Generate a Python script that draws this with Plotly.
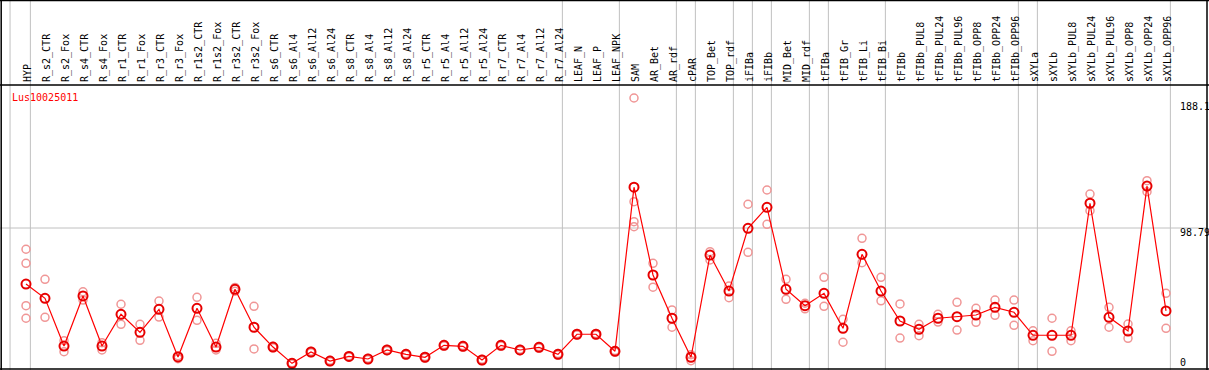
import plotly.graph_objects as go

W, H = 1209, 370

categories = ["HYP", "R_s2_CTR", "R_s2_Fox", "R_s4_CTR", "R_s4_Fox", "R_r1_CTR", "R_r1_Fox",
              "R_r3_CTR", "R_r3_Fox", "R_r1s2_CTR", "R_r1s2_Fox", "R_r3s2_CTR", "R_r3s2_Fox",
              "R_s6_CTR", "R_s6_Al4", "R_s6_Al12", "R_s6_Al24", "R_s8_CTR", "R_s8_Al4", "R_s8_Al12",
              "R_s8_Al24", "R_r5_CTR", "R_r5_Al4", "R_r5_Al12", "R_r5_Al24", "R_r7_CTR", "R_r7_Al4",
              "R_r7_Al12", "R_r7_Al24", "LEAF_N", "LEAF_P", "LEAF_NPK", "SAM", "AR_Bet", "AR_rdf",
              "cPAR", "TOP_Bet", "TOP_rdf", "iFIBa", "iFIBb", "MID_Bet", "MID_rdf", "tFIBa",
              "tFIB_Gr", "tFIB_Li", "tFIB_Bi", "tFIBb", "tFIBb_PUL8", "tFIBb_PUL24", "tFIBb_PUL96",
              "tFIBb_OPP8", "tFIBb_OPP24", "tFIBb_OPP96", "sXYLa", "sXYLb", "sXYLb_PUL8",
              "sXYLb_PUL24", "sXYLb_PUL96", "sXYLb_OPP8", "sXYLb_OPP24", "sXYLb_OPP96"]

mean_values = [60.3, 50.5, 17.7, 52.1, 17.7, 39.5, 27.1, 42.9, 10.2, 43.6, 17.0, 56.7, 30.6,
               17.0, 5.8, 13.6, 7.4, 10.6, 8.8, 15.0, 12.0, 10.0, 18.2, 17.5, 8.1, 18.2, 15.0,
               16.8, 12.0, 25.8, 25.8, 14.1, 126.8, 66.5, 36.8, 10.0, 80.2, 55.5, 98.6, 113.0,
               56.7, 45.4, 53.9, 29.9, 80.7, 55.5, 34.9, 29.2, 36.8, 37.9, 39.0, 44.3, 40.9,
               25.1, 25.1, 25.1, 115.8, 37.4, 28.0, 127.6, 41.8]

replicate_values = [
    [84.2, 74.5, 45.4, 36.8], [63.5, 37.4], [21.4, 13.8], [55.0, 49.3], [20.0, 15.0],
    [46.4, 32.6], [32.6, 21.6], [48.6, 37.6], [11.1, 9.0], [51.2, 35.4], [19.6, 15.0],
    [58.0, 55.4], [45.0, 15.7], [17.5, 16.5], [6.3, 5.3], [14.1, 13.1], [7.9, 6.9],
    [11.1, 10.1], [9.3, 8.3], [15.5, 14.5], [12.5, 11.5], [10.5, 9.5], [18.7, 17.7],
    [18.0, 17.0], [8.6, 7.6], [18.7, 17.7], [15.5, 14.5], [17.3, 16.3], [12.5, 11.5],
    [26.3, 25.3], [26.3, 25.3], [14.6, 13.6], [188.1, 116.9, 103.1, 99.7], [74.5, 58.1],
    [42.5, 30.6], [11.8, 7.6], [82.5, 76.8], [58.9, 50.9], [115.1, 82.1], [124.9, 101.3],
    [63.5, 49.8], [47.1, 43.3], [64.9, 45.0], [36.1, 20.3], [91.7, 75.0], [64.9, 48.8],
    [46.6, 23.2], [32.6, 24.8], [39.5, 34.2], [47.7, 28.7], [43.6, 34.0], [49.3, 38.8],
    [49.3, 31.9], [28.2, 21.4], [36.8, 14.1], [28.2, 21.4], [122.1, 110.7], [44.3, 30.6],
    [32.8, 23.0], [131.3, 123.7], [53.9, 29.9]]

group_last_index = [0, 28, 31, 34, 35, 37, 38, 39, 41, 42, 45, 52, 53, 60]
first_separator = -0.84

gene_name = "Lus10025011"
y_tick_labels = ["188.1", "98.79", "0"]
y_mid_value = 98.79

x_idx = list(range(len(categories)))
rep_x, rep_y = [], []
for i, reps in enumerate(replicate_values):
    for v in reps:
        rep_x.append(i)
        rep_y.append(v)

FONT = "DejaVu Sans Mono"

fig = go.Figure()
fig.add_trace(go.Scatter(
    x=rep_x, y=rep_y, mode="markers",
    marker=dict(symbol="circle-open", size=8, color="rgb(240,150,150)", line=dict(width=1.5)),
    hoverinfo="skip", showlegend=False, cliponaxis=False))
fig.add_trace(go.Scatter(
    x=x_idx, y=mean_values, mode="lines+markers",
    line=dict(color="rgb(255,0,0)", width=1.2),
    marker=dict(symbol="circle-open", size=9, color="rgb(230,0,0)", line=dict(width=2)),
    showlegend=False, cliponaxis=False))

shapes = []
sep_positions = [first_separator] + [g + 0.23 for g in group_last_index]
for sx in sep_positions:
    shapes.append(dict(type="line", xref="x", yref="paper", x0=sx, x1=sx, y0=0, y1=1,
                       line=dict(color="rgb(192,192,192)", width=1), layer="below"))
shapes.append(dict(type="line", xref="paper", yref="y", x0=0, x1=1207 / W,
                   y0=y_mid_value, y1=y_mid_value,
                   line=dict(color="rgb(192,192,192)", width=1), layer="below"))

def py(p):
    return 1 - p / H

black = dict(color="black", width=1.5)
shapes += [
    dict(type="line", xref="paper", yref="paper", x0=0, x1=1, y0=py(0.5), y1=py(0.5), line=black),
    dict(type="line", xref="paper", yref="paper", x0=0, x1=1, y0=py(85), y1=py(85), line=black),
    dict(type="line", xref="paper", yref="paper", x0=0, x1=1, y0=py(369), y1=py(369), line=black),
    dict(type="line", xref="paper", yref="paper", x0=1.2 / W, x1=1.2 / W, y0=0, y1=1, line=black),
    dict(type="line", xref="paper", yref="paper", x0=1207 / W, x1=1207 / W, y0=0, y1=1, line=black),
]

annotations = [dict(text=gene_name, xref="paper", yref="paper", x=10 / W, y=py(97.5),
                    xanchor="left", yanchor="middle", showarrow=False,
                    font=dict(family=FONT, size=10, color="red"))]
for lab, pyy in zip(y_tick_labels, [106.7, 232.7, 362]):
    annotations.append(dict(text=lab, xref="paper", yref="paper", x=1178 / W, y=py(pyy),
                            xanchor="left", yanchor="middle", showarrow=False,
                            font=dict(family=FONT, size=10, color="black")))

fig.update_layout(
    width=W, height=H, margin=dict(l=0, r=0, t=0, b=0),
    paper_bgcolor="white", plot_bgcolor="rgba(0,0,0,0)",
    shapes=shapes, annotations=annotations,
    xaxis=dict(range=[-26 / 19, (W - 26) / 19], side="top", tickmode="array",
               tickvals=x_idx, ticktext=categories, tickangle=-90, showgrid=False,
               zeroline=False, showline=False, ticks="", automargin=False,
               ticklabelstandoff=2, ticklabelshift=2,
               tickfont=dict(family=FONT, size=10, color="black"), fixedrange=True),
    yaxis=dict(range=[1.24, 197.03], domain=[0, 285 / H], showgrid=False, zeroline=False,
               showticklabels=False, showline=False, ticks="", automargin=False, fixedrange=True),
)

fig.write_html("out.html", config={"displayModeBar": False},
               post_script="document.body.style.margin='0';document.body.style.overflow='hidden';")
